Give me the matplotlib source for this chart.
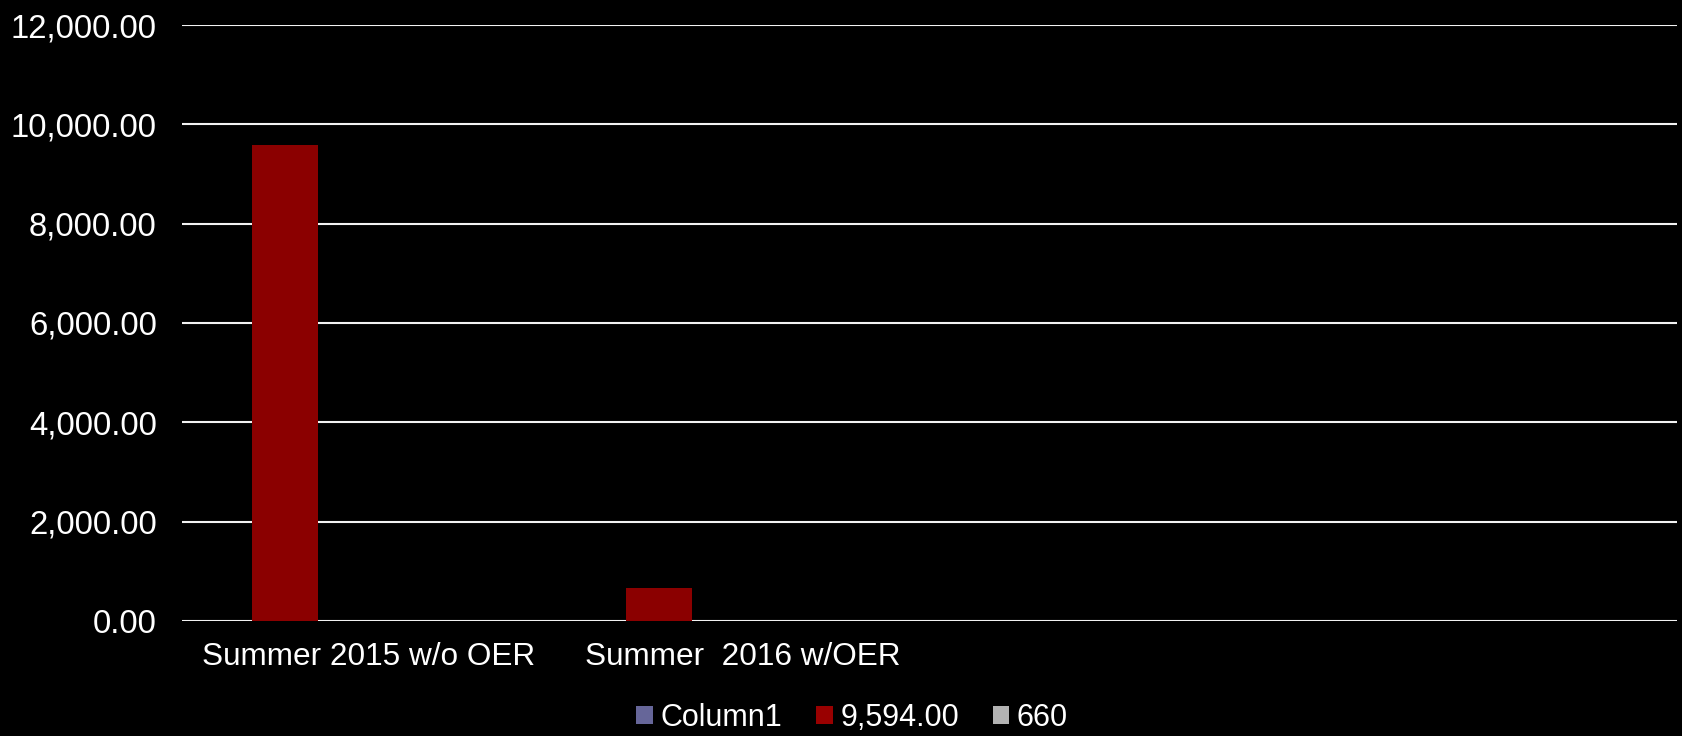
"""Summer 2015 vs 2016 (OER) column chart on a black background."""

import matplotlib
matplotlib.use("Agg")
import matplotlib.pyplot as plt
import numpy as np
from matplotlib.patches import Patch
from matplotlib.ticker import FuncFormatter

categories = ["Summer 2015 w/o OER", "Summer  2016 w/OER", "", ""]
series_names = ["Column1", "9,594.00", "660"]
series_colors = ["#666699", "#8B0000", "#B2B2B2"]
column1 = [np.nan, np.nan, np.nan, np.nan]
values_9594 = [9594, 660, np.nan, np.nan]
values_660 = [np.nan, np.nan, np.nan, np.nan]
y_ticks = [0, 2000, 4000, 6000, 8000, 10000, 12000]

plt.rcParams["font.family"] = ["Liberation Sans", "DejaVu Sans"]

fig = plt.figure(figsize=(16.83, 7.36), dpi=100, facecolor="black")
ax = fig.add_axes([0.108, 0.1563, 0.8884, 0.8097], facecolor="black")

x = np.arange(len(categories))
width = 0.1765
offsets = [-0.2236 - width, -0.2236, -0.2236 + width]
for vals, off, col in zip([column1, values_9594, values_660], offsets, series_colors):
    ax.bar(x + off, vals, width=width, color=col, zorder=3)

ax.set_xlim(-0.5, len(categories) - 0.5)
ax.set_ylim(0, 12000)
ax.set_yticks(y_ticks)
ax.yaxis.set_major_formatter(FuncFormatter(lambda v, _: f"{v:,.2f}"))
ax.set_xticks(x)
ax.set_xticklabels(categories)
ax.tick_params(axis="both", colors="white", length=0)
ax.tick_params(axis="y", pad=18, labelsize=23.7)
ax.tick_params(axis="x", pad=15, labelsize=22.7)
ax.grid(axis="y", color="#F2F2F2", linewidth=1.5, zorder=1)
for s in ax.spines.values():
    s.set_visible(False)

handles = [Patch(facecolor=c, edgecolor="none") for c in series_colors]
handles[1] = Patch(facecolor="#990000", edgecolor="none")
fig.legend(handles, series_names, loc="center", ncol=3,
           bbox_to_anchor=(852 / 1683, 1 - 718 / 736), frameon=False,
           fontsize=22, labelcolor="white", handlelength=0.55, handleheight=0.55,
           handletextpad=0.25, columnspacing=1.1)

fig.savefig("out.png", dpi=100, facecolor="black")
